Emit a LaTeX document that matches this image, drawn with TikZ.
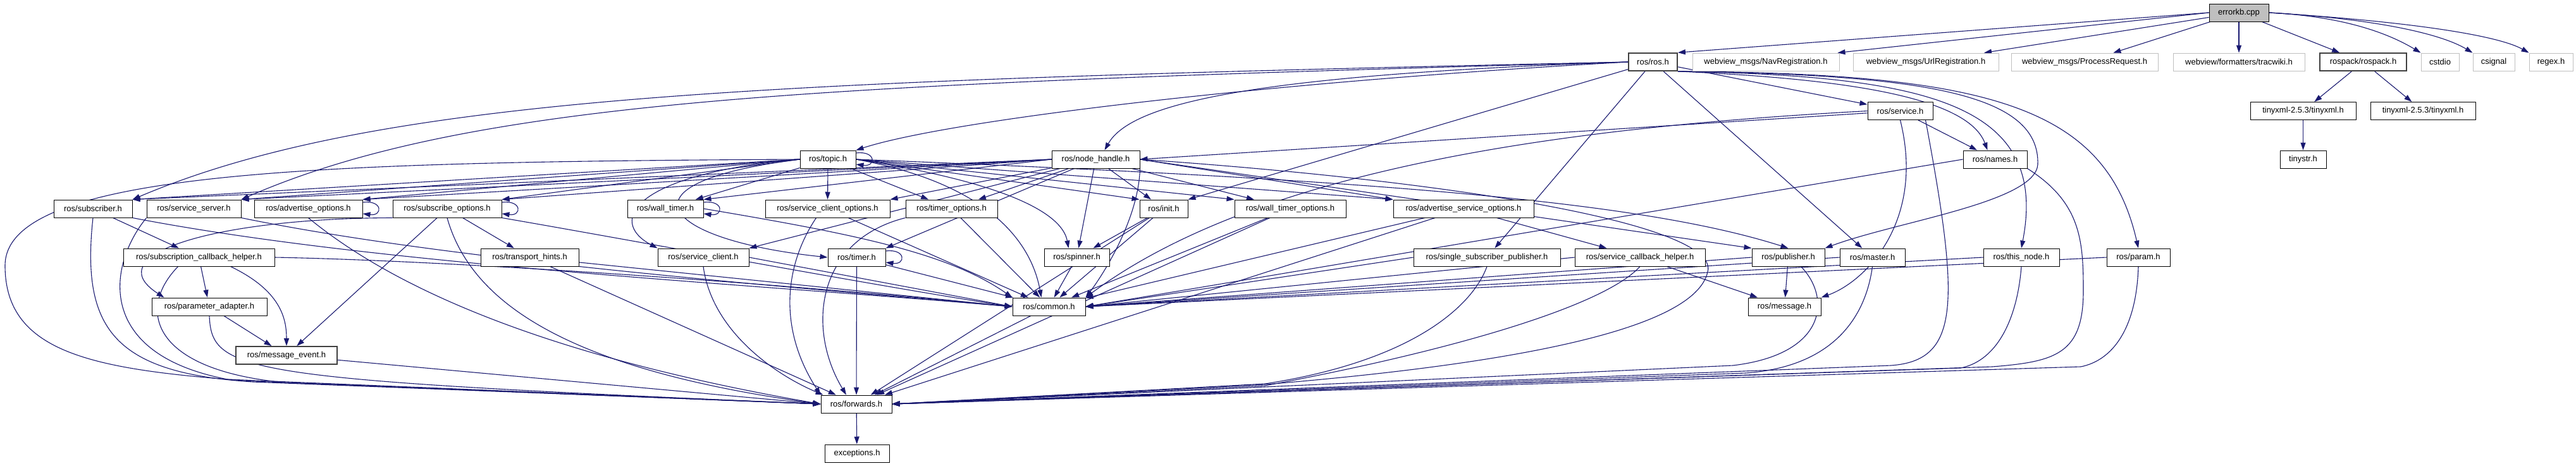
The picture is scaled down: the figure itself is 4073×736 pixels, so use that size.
\documentclass[tikz,border=0pt]{standalone}
\usepackage{fontspec}
\setmainfont{Liberation Sans}
\usetikzlibrary{arrows.meta,calc}
\pgfdeclarelayer{bg}
\pgfdeclarelayer{paper}
\pgfsetlayers{paper,bg,main}
\definecolor{mblue}{HTML}{191970}
\definecolor{lgray}{HTML}{BFBFBF}
\definecolor{dgray}{HTML}{404040}
\newcommand\mynode[6][]{\node[box,minimum width=#5pt,#1] (#2) at (#3,#4) {#6};}
\newcommand\selfloop[1]{\draw[e] ([yshift=10pt]#1.east) .. controls +(32,-4) and +(32,4) .. ([yshift=-8pt]#1.east);}
\begin{document}
\begin{tikzpicture}[x=1pt,y=-1pt,
  box/.style={draw=black,line width=1pt,fill=white,minimum height=28pt,inner sep=0pt,font=\fontsize{13}{15}\selectfont},
  ext/.style={draw=lgray},
  bold/.style={draw=dgray,line width=1.7pt},
  e/.style={draw=mblue,line width=1.1pt,-{Triangle[length=12pt,width=8pt]}}]
\begin{pgfonlayer}{paper}
\fill[white] (0,0) rectangle (4073,736);
\end{pgfonlayer}
\useasboundingbox (0,0) rectangle (4073,736);
% layer 0
\mynode[fill=lgray]{ekb}{3540}{20}{94}{errorkb.cpp}
% layer 1
\mynode[bold]{ros}{2613.5}{98}{77}{ros/ros.h}
\mynode[ext]{nav}{2792}{98}{232}{webview\_msgs/NavRegistration.h}
\mynode[ext]{url}{3045}{98}{230}{webview\_msgs/UrlRegistration.h}
\mynode[ext]{proc}{3296}{98}{232}{webview\_msgs/ProcessRequest.h}
\mynode[ext]{trac}{3540}{98}{208}{webview/formatters/tracwiki.h}
\mynode[bold]{rospack}{3736.5}{98}{137}{rospack/rospack.h}
\mynode[ext]{cstdio}{3858}{98}{60}{cstdio}
\mynode[ext]{csignal}{3943}{98}{66}{csignal}
\mynode[ext]{regex}{4033.5}{98}{69}{regex.h}
% layer 2
\mynode{service}{3004.5}{175.5}{103}{ros/service.h}
\mynode{tx1}{3641.5}{175.5}{167}{tinyxml-2.5.3/tinyxml.h}
\mynode{tx2}{3831}{175.5}{166}{tinyxml-2.5.3/tinyxml.h}
% layer 3
\mynode{topic}{1309}{252}{88}{ros/topic.h}
\mynode{nh}{1732.5}{252}{139}{ros/node\_handle.h}
\mynode{names}{3154.5}{252}{101}{ros/names.h}
\mynode{tinystr}{3641.5}{252}{73}{tinystr.h}
% layer 4
\mynode{subscriber}{147}{330}{124}{ros/subscriber.h}
\mynode{sserver}{306.5}{330}{149}{ros/service\_server.h}
\mynode{advopt}{487.5}{330}{171}{ros/advertise\_options.h}
\mynode{subopt}{707}{330}{172}{ros/subscribe\_options.h}
\mynode{walltimer}{1052}{330}{120}{ros/wall\_timer.h}
\mynode{sco}{1308.5}{330}{197}{ros/service\_client\_options.h}
\mynode{timeropt}{1504.5}{330}{145}{ros/timer\_options.h}
\mynode{init}{1840}{330}{76}{ros/init.h}
\mynode{wto}{2040}{330}{176}{ros/wall\_timer\_options.h}
\mynode{aso}{2314}{330}{222}{ros/advertise\_service\_options.h}
% layer 5
\mynode{sch}{314.5}{407}{239}{ros/subscription\_callback\_helper.h}
\mynode{th}{837.5}{407}{155}{ros/transport\_hints.h}
\mynode{sclient}{1112}{407}{144}{ros/service\_client.h}
\mynode{timer}{1354.5}{407}{91}{ros/timer.h}
\mynode{spinner}{1702.5}{407}{103}{ros/spinner.h}
\mynode{ssp}{2351}{407}{232}{ros/single\_subscriber\_publisher.h}
\mynode{svcch}{2593}{407}{206}{ros/service\_callback\_helper.h}
\mynode{pub}{2827.5}{407}{115}{ros/publisher.h}
\mynode{master}{2960.5}{407}{103}{ros/master.h}
\mynode{thisnode}{3196}{407}{120}{ros/this\_node.h}
\mynode{param}{3381}{407}{100}{ros/param.h}
% layer 6
\mynode{pa}{331}{485}{182}{ros/parameter\_adapter.h}
\mynode{common}{1658.5}{485}{115}{ros/common.h}
\mynode{message}{2821.5}{485}{115}{ros/message.h}
% layer 7-9
\mynode[bold]{me}{453}{562}{160}{ros/message\_event.h}
\mynode{fwd}{1354}{639}{112}{ros/forwards.h}
\mynode{exc}{1355}{717}{102}{exceptions.h}

\begin{pgfonlayer}{bg}
% errorkb.cpp
\draw[e] (ekb.west) -- (ros.north east);
\draw[e] (ekb.west) -- ([xshift=-3pt]nav.north east);
\draw[e] (ekb) -- (url);
\draw[e] (ekb) -- (proc);
\draw[e] (ekb) -- (trac);
\draw[e] (ekb) -- (rospack);
\draw[e] (ekb.east) .. controls +(120,6) and +(-50,-30) .. (cstdio.north west);
\draw[e] (ekb.east) .. controls +(170,10) and +(-50,-30) .. (csignal.north west);
\draw[e] (ekb.east) .. controls +(220,14) and +(-50,-28) .. (regex.north west);
% rospack
\draw[e] (rospack) -- (tx1);
\draw[e] (rospack) -- (tx2);
\draw[e] (tx1) -- (tinystr);
% ros/ros.h
\draw[e] (ros.west) .. controls (1200,128) and (600,150) .. (subscriber.north east);
\draw[e] (ros.west) .. controls (1300,133) and (750,155) .. (sserver.north east);
\draw[e] (ros.west) .. controls (2000,130) and (1500,190) .. (topic.north east);
\draw[e] (ros.west) .. controls (2000,118) and (1790,160) .. ([xshift=14pt]nh.north);
\draw[e] (ros) -- (init.north east);
\draw[e] (ros) -- (ssp);
\draw[e] (ros) -- (master);
\draw[e] (ros) -- (service);
\draw[e] (ros.south east) .. controls (2900,124) and (3110,150) .. ([xshift=-12pt]names.north);
\draw[e] (ros.south east) .. controls (3050,120) and (3240,165) .. (thisnode.north);
\draw[e] (ros.south east) .. controls (3150,116) and (3330,170) .. (param.north);
\draw[e] (ros.south east) .. controls (3050,118) and (3225,150) .. (3222,260) .. controls (3218,320) and (3000,350) .. (pub.north east);
% ros/service.h
\draw[e] (service) -- (nh.east);
\draw[e] (service.west) .. controls (2500,200) and (2000,260) .. (common.north east);
\draw[e] (service) -- (names);
\draw[e] (service.south) .. controls +(40,160) and +(70,-25) .. (message.north east);
\draw[e] ([xshift=40pt]service.south) .. controls (3099,480) and (3099,570) .. (2990,578) -- (fwd.east);
% names, this_node, param, master
\draw[e] (names.west) -- (common.east);
\draw[e] (names.south east) .. controls (3290,320) and (3294,380) .. (3294,460) .. controls (3294,560) and (3250,572) .. (3150,580) -- (fwd.east);
\draw[e] (thisnode.west) -- (common.east);
\draw[e] (thisnode.south) .. controls (3190,500) and (3160,570) .. (3100,582) -- (fwd.east);
\draw[e] (param.west) -- (common.east);
\draw[e] (param.south) .. controls (3378,520) and (3340,570) .. (3290,580) -- (fwd.east);
\draw[e] (master.west) -- (common.east);
\draw[e] (master.south) .. controls (2950,500) and (2900,580) .. (2760,590) -- (fwd.east);
% publisher, service_callback_helper, single_subscriber_publisher
\draw[e] (pub) -- (message);
\draw[e] (pub.west) -- (common.east);
\draw[e] ([xshift=20pt]pub.south) .. controls (2895,470) and (2890,560) .. (2740,578) -- (fwd.east);
\draw[e] (svcch) -- (message);
\draw[e] (svcch.west) -- (common.east);
\draw[e] (svcch.south) .. controls (2540,480) and (2320,550) .. (2000,610) -- (fwd.east);
\draw[e] (ssp.west) -- (common.east);
\draw[e] (ssp.south) .. controls (2330,480) and (2240,570) .. (2000,607) -- (fwd.east);
% advertise_service_options, wall_timer_options, init, spinner
\draw[e] (aso) -- (svcch);
\draw[e] (aso) -- (common);
\draw[e] (aso) -- (fwd);
\draw[e] (wto) -- (common);
\draw[e] (wto) -- (fwd);
\draw[e] (init) -- (spinner);
\draw[e] (init) -- (common);
\draw[e] (init) -- (fwd);
\draw[e] (spinner) -- (common);
% timer_options, service_client_options, service_client, timer, wall_timer
\draw[e] (timeropt) -- (common);
\draw[e] (timeropt.south west) .. controls (1290,380) and (1275,520) .. ([xshift=-16pt]fwd.north);
\draw[e] (sco) -- (common);
\draw[e] ([xshift=-18pt]sco.south) .. controls (1240,420) and (1230,520) .. (fwd.north west);
\draw[e] (sclient.east) -- (common.west);
\draw[e] (sclient.south) .. controls (1125,520) and (1220,590) .. ([xshift=4pt]fwd.north west);
\draw[e] (timer) -- (fwd);
\draw[e] (timer) -- (common);
\draw[e] (walltimer.east) .. controls (1350,370) and (1500,400) .. (common.north west);
% left cluster
\draw[e] (subscriber) -- (sch);
\draw[e] (subscriber.south) .. controls (128,520) and (180,590) .. (400,604) -- (fwd.west);
\draw[e] (subscriber.south east) .. controls (600,420) and (1200,450) .. (common.west);
\draw[e] (sserver.south west) .. controls (170,420) and (150,560) .. (360,600) -- (fwd.west);
\draw[e] (sserver.south east) .. controls (700,410) and (1200,450) .. (common.west);
\draw[e] (advopt.south) .. controls (640,470) and (900,570) .. (fwd.west);
\draw[e] (subopt) -- (th);
\draw[e] (subopt) -- (me);
\draw[e] (subopt.south west) .. controls (350,345) and (150,400) .. ([xshift=20pt]pa.north west);
\draw[e] (subopt.south) .. controls (745,480) and (900,585) .. (fwd.west);
\draw[e] (subopt.south east) .. controls (1000,380) and (1400,455) .. (common.west);
\draw[e] (th) -- (common.west);
\draw[e] (th) -- (fwd);
\draw[e] (sch) -- (pa);
\draw[e] ([xshift=50pt]sch.south) .. controls (445,460) and (453,505) .. (me.north);
\draw[e] ([xshift=-33pt]sch.south) .. controls (215,490) and (240,585) .. (450,605) -- (fwd.west);
\draw[e] (sch.east) .. controls (700,412) and (1200,445) .. (common.west);
\draw[e] (pa) -- (me);
\draw[e] (pa.south) .. controls (335,590) and (380,600) .. (fwd.west);
\draw[e] (me) -- (fwd.west);
\draw[e] (common) -- (fwd);
\draw[e] (fwd) -- (exc);
% ros/topic.h
\draw[e] (topic.west) -- (subscriber.north east);
\draw[e] (topic.west) -- (sserver.north east);
\draw[e] (topic.west) -- (advopt.north east);
\draw[e] (topic.west) -- (subopt.north east);
\draw[e] (topic) -- (walltimer);
\draw[e] (topic) -- (sco);
\draw[e] (topic) -- (timeropt);
\draw[e] (topic.east) -- (init.north west);
\draw[e] (topic.east) -- (wto.north west);
\draw[e] (topic.east) -- (aso.north west);
\draw[e] (topic.east) .. controls (2200,285) and (2600,320) .. (pub.north);
\draw[e] (topic.west) .. controls (1000,275) and (960,350) .. (sclient.north west);
\draw[e] (topic.west) .. controls (960,290) and (1050,380) .. (timer.west);
\draw[e] (topic.east) .. controls (1600,290) and (1680,340) .. ([xshift=-13pt]spinner.north);
\draw[e] (topic.east) .. controls (1560,290) and (1630,380) .. ([xshift=-12pt]common.north);
\draw[e] (topic.west) .. controls (500,256) and (8,270) .. (8,420) .. controls (8,560) and (150,585) .. (400,603) -- (fwd.west);
% ros/node_handle.h
\draw[e] (nh.west) -- (subscriber.north east);
\draw[e] (nh.west) -- (sserver.north east);
\draw[e] (nh.west) -- (advopt.north east);
\draw[e] (nh.west) -- (subopt.north east);
\draw[e] (nh.west) -- (walltimer.north east);
\draw[e] (nh) -- (sco.north east);
\draw[e] (nh) -- (timeropt);
\draw[e] (nh) -- (init);
\draw[e] (nh) -- (wto);
\draw[e] (nh.east) -- (aso.north west);
\draw[e] (nh) -- (sclient.north east);
\draw[e] (nh) -- (timer.north east);
\draw[e] (nh) -- (spinner);
\draw[e] (nh.south east) .. controls (1800,350) and (1740,440) .. (common.north east);
\draw[e] (nh.east) -- (pub.north west);
\draw[e] (nh.east) .. controls (2350,290) and (2720,360) .. (2700,430) .. controls (2680,520) and (2400,575) .. (2000,608) -- (fwd.east);
% self loops
\selfloop{topic}
\selfloop{walltimer}
\selfloop{timer}
\selfloop{advopt}
\selfloop{subopt}
\end{pgfonlayer}
\end{tikzpicture}
\end{document}
